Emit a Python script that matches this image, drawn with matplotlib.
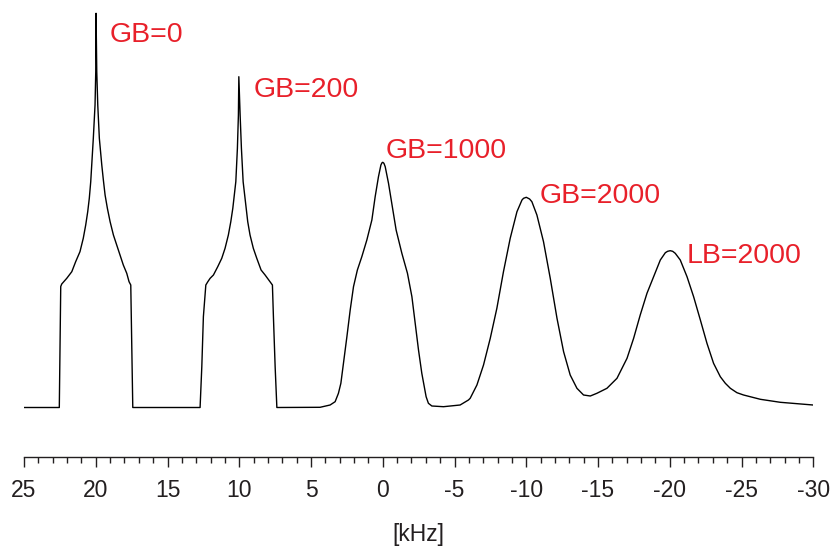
import numpy as np
import matplotlib
matplotlib.use("Agg")
import matplotlib.pyplot as plt
from matplotlib.ticker import MultipleLocator

plt.rcParams['font.family'] = ['Liberation Sans', 'DejaVu Sans']
plt.rcParams['axes.unicode_minus'] = False

# ---- data (frequency in kHz, intensity in arbitrary units) ----
base_khz = [25.0]
base_int = [0.0]

gb0_khz = [22.54, 22.44, 22.37, 22.02, 21.67, 21.40, 21.10, 20.87, 20.70, 20.56, 20.45, 20.35, 20.28,
           20.17, 20.05, 20.00, 19.98,
           19.93, 19.86, 19.75, 19.58, 19.47, 19.35, 19.19, 19.00, 18.77, 18.54, 18.31, 18.08, 17.84,
           17.68, 17.56, 17.42]
gb0_int = [0, 121, 123.5, 129.2, 135.8, 145.8, 155.8, 169.2, 182.5, 195.8, 209.2, 225.8, 242.5,
           269.2, 302.5, 335.8, 394.2,
           335.8, 302.5, 269.2, 242.5, 227.5, 212.5, 199.2, 185.8, 172.5, 162.5, 152.5, 142.5, 134.2,
           125.8, 122.5, 0]

gb200_khz = [12.73, 12.61, 12.50, 12.33, 12.19, 12.03, 11.80, 11.50, 11.22, 10.99, 10.76, 10.59, 10.45,
             10.24, 10.13, 10.06, 10.03,
             9.94, 9.85, 9.73, 9.52, 9.41, 9.25, 9.02, 8.78, 8.48, 8.20, 7.78, 7.69, 7.62, 7.50, 7.38]
gb200_int = [0, 40.8, 90.8, 122.5, 125.8, 129.2, 132.5, 140.8, 149.2, 159.2, 172.5, 185.8, 199.2,
             225.8, 259.2, 292.5, 330.8,
             292.5, 259.2, 225.8, 199.2, 185.8, 172.5, 159.2, 149.2, 137.5, 132.5, 124.2, 122.5, 90.8,
             40.8, 0]

gb1000_khz = [4.37, 3.67, 3.32, 3.09, 2.92, 2.74, 2.50, 2.27, 2.04, 1.77, 1.46, 1.11, 0.76, 0.53, 0.30,
              0.13, 0.06, 0.00, -0.08, -0.17, -0.40, -0.63, -0.93, -1.33, -1.72, -2.03, -2.26, -2.49,
              -2.72, -3.02, -3.18, -3.42, -4.23, -5.39, -5.97]
gb1000_int = [0.2, 2.5, 5.8, 14.2, 24.2, 44.2, 70.8, 97.5, 120.8, 137.5, 150.8, 167.5, 187.5, 210.8,
              230.8, 242.5, 244.6, 245.2, 244.2, 240.8, 224.2, 204.2, 177.5, 154.2, 134.2, 110.8, 84.2,
              57.5, 34.2, 10.8, 4.2, 1.5, 0.8, 2.5, 7.5]

gb2000_khz = [-6.09, -6.56, -7.02, -7.49, -7.95, -8.41, -8.88, -9.35, -9.70, -9.81, -10.00, -10.23,
              -10.39, -10.74, -11.20, -11.67, -12.14, -12.60, -13.06, -13.53, -13.99, -14.46, -14.92,
              -15.62, -16.32, -17.02, -17.48, -17.94]
gb2000_int = [9.2, 22.5, 42.5, 69.2, 99.2, 135.8, 169.2, 195.8, 207.5, 209.2, 210.2, 208.5,
              205.8, 192.5, 165.8, 129.2, 89.2, 55.8, 32.5, 19.2, 12.5, 11.5, 14.2,
              19.2, 29.2, 49.2, 69.2, 92.5]

lb2000_khz = [-18.41, -18.87, -19.34, -19.69, -19.85, -20.03, -20.20, -20.38, -20.73, -21.20, -21.66,
              -22.13, -22.59, -23.05, -23.52, -23.87, -24.22, -24.68, -25.14, -26.31, -27.70, -29.10,
              -29.98]
lb2000_int = [114.2, 130.8, 147.5, 154.8, 156.2, 156.8, 156.2, 154.2, 147.5, 130.8, 110.8,
              87.5, 64.2, 44.2, 30.8, 24.2, 19.2, 14.8, 12.5, 8.2, 5.2, 3.5, 2.5]

labels = ["GB=0", "GB=200", "GB=1000", "GB=2000", "LB=2000"]
label_khz = [19.0, 9.0, -0.17, -10.92, -21.2]
label_int = [365.8, 310.8, 249.8, 204.8, 144.8]

xticks = [25, 20, 15, 10, 5, 0, -5, -10, -15, -20, -25, -30]

# ---- plotting ----
x = np.concatenate([base_khz, gb0_khz, gb200_khz, gb1000_khz, gb2000_khz, lb2000_khz])
y = np.concatenate([base_int, gb0_int, gb200_int, gb1000_int, gb2000_int, lb2000_int])

W, H = 832, 546
fig = plt.figure(figsize=(W / 100, H / 100), dpi=100)
ax = fig.add_axes([24 / W, (H - 457) / H, (813.3 - 24) / W, 457 / H])

ax.plot(x, y, color='black', lw=1.0, solid_joinstyle='round', antialiased=True)

ax.set_xlim(25, -30)
ax.set_ylim(-49.5, 407.5)

for s in ['left', 'right', 'top']:
    ax.spines[s].set_visible(False)
ax.spines['bottom'].set_linewidth(1.0)
ax.spines['bottom'].set_color('#231f20')
ax.set_yticks([])

ax.set_xticks(xticks)
ax.set_xticklabels([str(t) for t in xticks])
ax.xaxis.set_minor_locator(MultipleLocator(1))
ax.tick_params(axis='x', which='major', direction='out', length=7.5, width=1.0,
               labelsize=16.5, pad=8.5, colors='#231f20')
ax.tick_params(axis='x', which='minor', direction='out', length=4.5, width=1.0, colors='#231f20')

ax.set_xlabel('[kHz]', fontsize=16.5, color='#231f20', va='center')
ax.xaxis.set_label_coords(0.5, (457 - 535) / 457)

for t, kx, ky in zip(labels, label_khz, label_int):
    ax.text(kx, ky, t, color='#e8202a', fontsize=20.5, ha='left', va='baseline')

fig.savefig('out.png', dpi=100)
